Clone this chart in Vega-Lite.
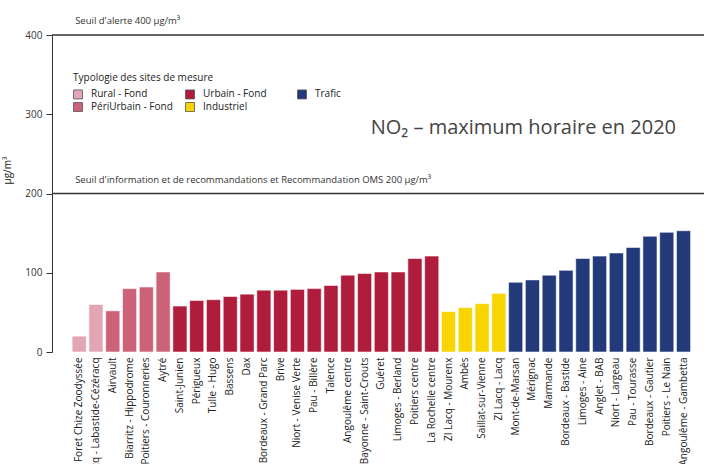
{
  "$schema": "https://vega.github.io/schema/vega-lite/v6.json",
  "width": 652,
  "height": 317,
  "autosize": {"type": "none"},
  "padding": {"left": 52, "top": 35, "right": 0, "bottom": 112},
  "background": "white",
  "config": {
    "view": {"stroke": null},
    "font": "Open Sans",
    "axis": {"labelFont": "Open Sans", "titleFont": "Open Sans"},
    "legend": {"labelFont": "Open Sans", "titleFont": "Open Sans"}
  },
  "title": {
    "text": "NO₂ – maximum horaire en 2020",
    "anchor": "end",
    "frame": "group",
    "orient": "top",
    "offset": 0,
    "baseline": "middle",
    "dy": 132,
    "dx": -28,
    "fontSize": 20,
    "fontWeight": "normal",
    "color": "#444444"
  },
  "datasets": {
    "sites": [
      {"site": "Foret Chize Zoodyssée", "type": "Rural - Fond", "no2": 20},
      {"site": "Lacq - Labastide-Cézéracq", "type": "Rural - Fond", "no2": 60},
      {"site": "Airvault", "type": "PériUrbain - Fond", "no2": 52},
      {"site": "Biarritz - Hippodrome", "type": "PériUrbain - Fond", "no2": 80},
      {"site": "Poitiers - Couronneries", "type": "PériUrbain - Fond", "no2": 82},
      {"site": "Aytré", "type": "PériUrbain - Fond", "no2": 101},
      {"site": "Saint-Junien", "type": "Urbain - Fond", "no2": 58},
      {"site": "Périgueux", "type": "Urbain - Fond", "no2": 65},
      {"site": "Tulle - Hugo", "type": "Urbain - Fond", "no2": 66},
      {"site": "Bassens", "type": "Urbain - Fond", "no2": 70},
      {"site": "Dax", "type": "Urbain - Fond", "no2": 73},
      {"site": "Bordeaux - Grand Parc", "type": "Urbain - Fond", "no2": 78},
      {"site": "Brive", "type": "Urbain - Fond", "no2": 78},
      {"site": "Niort - Venise Verte", "type": "Urbain - Fond", "no2": 79},
      {"site": "Pau - Billère", "type": "Urbain - Fond", "no2": 80},
      {"site": "Talence", "type": "Urbain - Fond", "no2": 84},
      {"site": "Angoulême centre", "type": "Urbain - Fond", "no2": 97},
      {"site": "Bayonne - Saint-Crouts", "type": "Urbain - Fond", "no2": 99},
      {"site": "Guéret", "type": "Urbain - Fond", "no2": 101},
      {"site": "Limoges - Berland", "type": "Urbain - Fond", "no2": 101},
      {"site": "Poitiers centre", "type": "Urbain - Fond", "no2": 118},
      {"site": "La Rochelle centre", "type": "Urbain - Fond", "no2": 121},
      {"site": "ZI Lacq - Mourenx", "type": "Industriel", "no2": 51},
      {"site": "Ambès", "type": "Industriel", "no2": 56},
      {"site": "Saillat-sur-Vienne", "type": "Industriel", "no2": 61},
      {"site": "ZI Lacq - Lacq", "type": "Industriel", "no2": 74},
      {"site": "Mont-de-Marsan", "type": "Trafic", "no2": 88},
      {"site": "Mérignac", "type": "Trafic", "no2": 91},
      {"site": "Marmande", "type": "Trafic", "no2": 97},
      {"site": "Bordeaux - Bastide", "type": "Trafic", "no2": 103},
      {"site": "Limoges - Aine", "type": "Trafic", "no2": 118},
      {"site": "Anglet - BAB", "type": "Trafic", "no2": 121},
      {"site": "Niort - Largeau", "type": "Trafic", "no2": 125},
      {"site": "Pau - Tourasse", "type": "Trafic", "no2": 132},
      {"site": "Bordeaux - Gautier", "type": "Trafic", "no2": 146},
      {"site": "Poitiers - Le Nain", "type": "Trafic", "no2": 151},
      {"site": "Angoulême - Gambetta", "type": "Trafic", "no2": 153}
    ],
    "seuils": [
      {"seuil": 400, "site": "Foret Chize Zoodyssée", "label": "Seuil d'alerte 400 µg/m³"},
      {"seuil": 200, "site": "Foret Chize Zoodyssée", "label": "Seuil d'information et de recommandations et Recommandation OMS 200 µg/m³"}
    ]
  },
  "layer": [
    {
      "data": {"name": "sites"},
      "mark": {"type": "bar", "stroke": "white", "strokeOpacity": 0.55, "strokeWidth": 1},
      "encoding": {
        "x": {
          "field": "site",
          "type": "nominal",
          "sort": null,
          "scale": {"paddingInner": 0.16, "paddingOuter": 1.18, "align": 0.6},
          "axis": {
            "title": null,
            "labelAngle": -90,
            "labelAlign": "right",
            "labelBaseline": "middle",
            "labelPadding": 5,
            "labelFontSize": 10,
            "labelColor": "#222222",
            "labelLimit": 0,
            "labelOverlap": false,
            "ticks": false,
            "domain": false
          }
        },
        "y": {
          "field": "no2",
          "type": "quantitative",
          "scale": {"domain": [0, 400], "nice": false},
          "axis": {
            "title": "µg/m³",
            "titleFontSize": 10,
            "titleFontWeight": "normal",
            "titleColor": "#222222",
            "titleX": -40,
            "titleY": 135,
            "values": [0, 100, 200, 300, 400],
            "grid": false,
            "domainColor": "#333333",
            "domainWidth": 1,
            "tickColor": "#333333",
            "tickSize": 6,
            "labelFontSize": 10,
            "labelColor": "#333333",
            "labelPadding": 4
          }
        },
        "color": {
          "field": "type",
          "type": "nominal",
          "scale": {
            "domain": ["Rural - Fond", "PériUrbain - Fond", "Urbain - Fond", "Industriel", "Trafic"],
            "range": ["#e2a5b3", "#cc6277", "#b01c3c", "#f8d400", "#233a7a"]
          },
          "legend": {
            "title": "Typologie des sites de mesure",
            "orient": "none",
            "legendX": 21,
            "legendY": 38,
            "columns": 3,
            "gridAlign": "all",
            "columnPadding": 10,
            "rowPadding": -1,
            "symbolType": "square",
            "symbolSize": 81,
            "symbolStrokeColor": "#555555",
            "symbolStrokeWidth": 0.8,
            "titleFontSize": 10,
            "titleFontWeight": "normal",
            "titleColor": "#222222",
            "titlePadding": 6,
            "labelFontSize": 10,
            "labelColor": "#222222",
            "labelOffset": 8
          }
        }
      }
    },
    {
      "data": {"name": "seuils"},
      "mark": {"type": "rule", "color": "#333333", "strokeWidth": 1.5},
      "encoding": {
        "y": {"field": "seuil", "type": "quantitative"}
      }
    },
    {
      "data": {"name": "seuils"},
      "mark": {"type": "text", "align": "left", "baseline": "bottom", "dx": 3, "dy": -9, "fontSize": 9.5, "color": "#333333"},
      "encoding": {
        "x": {"field": "site", "type": "nominal", "sort": null, "bandPosition": 0},
        "y": {"field": "seuil", "type": "quantitative"},
        "text": {"field": "label"}
      }
    }
  ]
}
